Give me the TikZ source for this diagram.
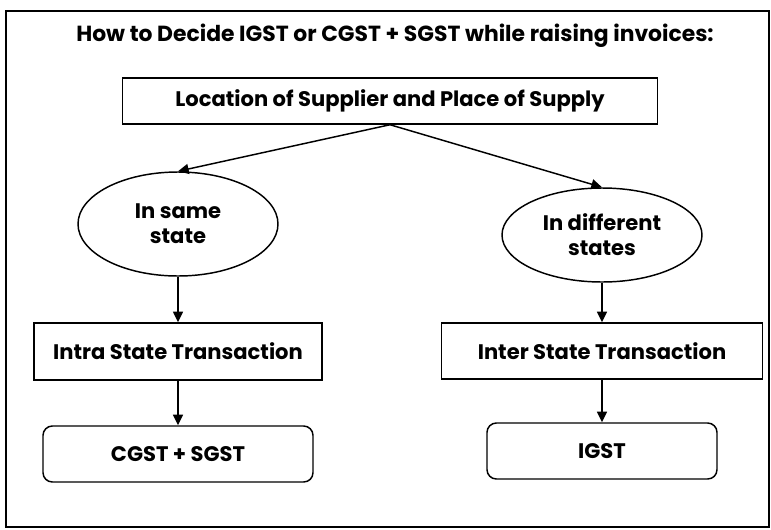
\documentclass[tikz,border=0pt]{standalone}
\usepackage{fontspec}
\setmainfont{Poppins}
\usetikzlibrary{arrows.meta,shapes.geometric,trees}
\tikzstyle{plain}=[draw,rectangle,line width=1.1pt,inner sep=0pt]
\tikzstyle{soft}=[plain,rounded corners=7pt]

\begin{document}
\begin{tikzpicture}[
  x=0.75pt, y=-0.75pt,
  line width=1.1pt,
  font=\bfseries\fontsize{15.8}{18.75}\selectfont,
  >={Triangle[length=8pt,width=7.5pt]},
  oval/.style={ellipse,draw,line width=1.1pt,align=center,inner sep=0pt,minimum width=150pt},
  edge from parent/.style={draw,->},
  level 1/.style={sibling distance=318pt},
]
  \useasboundingbox (0,0) rectangle (771,529);
  \draw[line width=1pt] (6,11) rectangle (769,527);
  \node[font=\bfseries\fontsize{16.4}{20}\selectfont] (title) at (395,36)
    {How to Decide IGST or CGST + SGST while raising invoices:};

  \node[plain,minimum width=401pt,minimum height=34.5pt] (loc) at (390,101)
    {Location of Supplier and Place of Supply}
    child[level distance=92.25pt,parent anchor=south,child anchor=north] {
      node[oval,minimum height=78pt] (same) {In same\\state}
      child[level distance=95.6pt,parent anchor=south,child anchor=north] {
        node[plain,minimum width=216pt,minimum height=42.75pt] (intra) {Intra State Transaction}
        child[level distance=76.9pt,parent anchor=south,child anchor=north] {
          node[soft,minimum width=202.5pt,minimum height=42pt] (cs) {CGST + SGST}
        }
      }
    }
    child[level distance=100.5pt,parent anchor=south,child anchor=north] {
      node[oval,minimum height=70.5pt] (diff) {In different\\states}
      child[level distance=87pt,parent anchor=south,child anchor=north] {
        node[plain,minimum width=240.75pt,minimum height=42pt] (inter) {Inter State Transaction}
        child[level distance=75pt,parent anchor=south,child anchor=north] {
          node[soft,minimum width=172.5pt,minimum height=42pt] (ig) {IGST}
        }
      }
    };
\end{tikzpicture}
\end{document}
